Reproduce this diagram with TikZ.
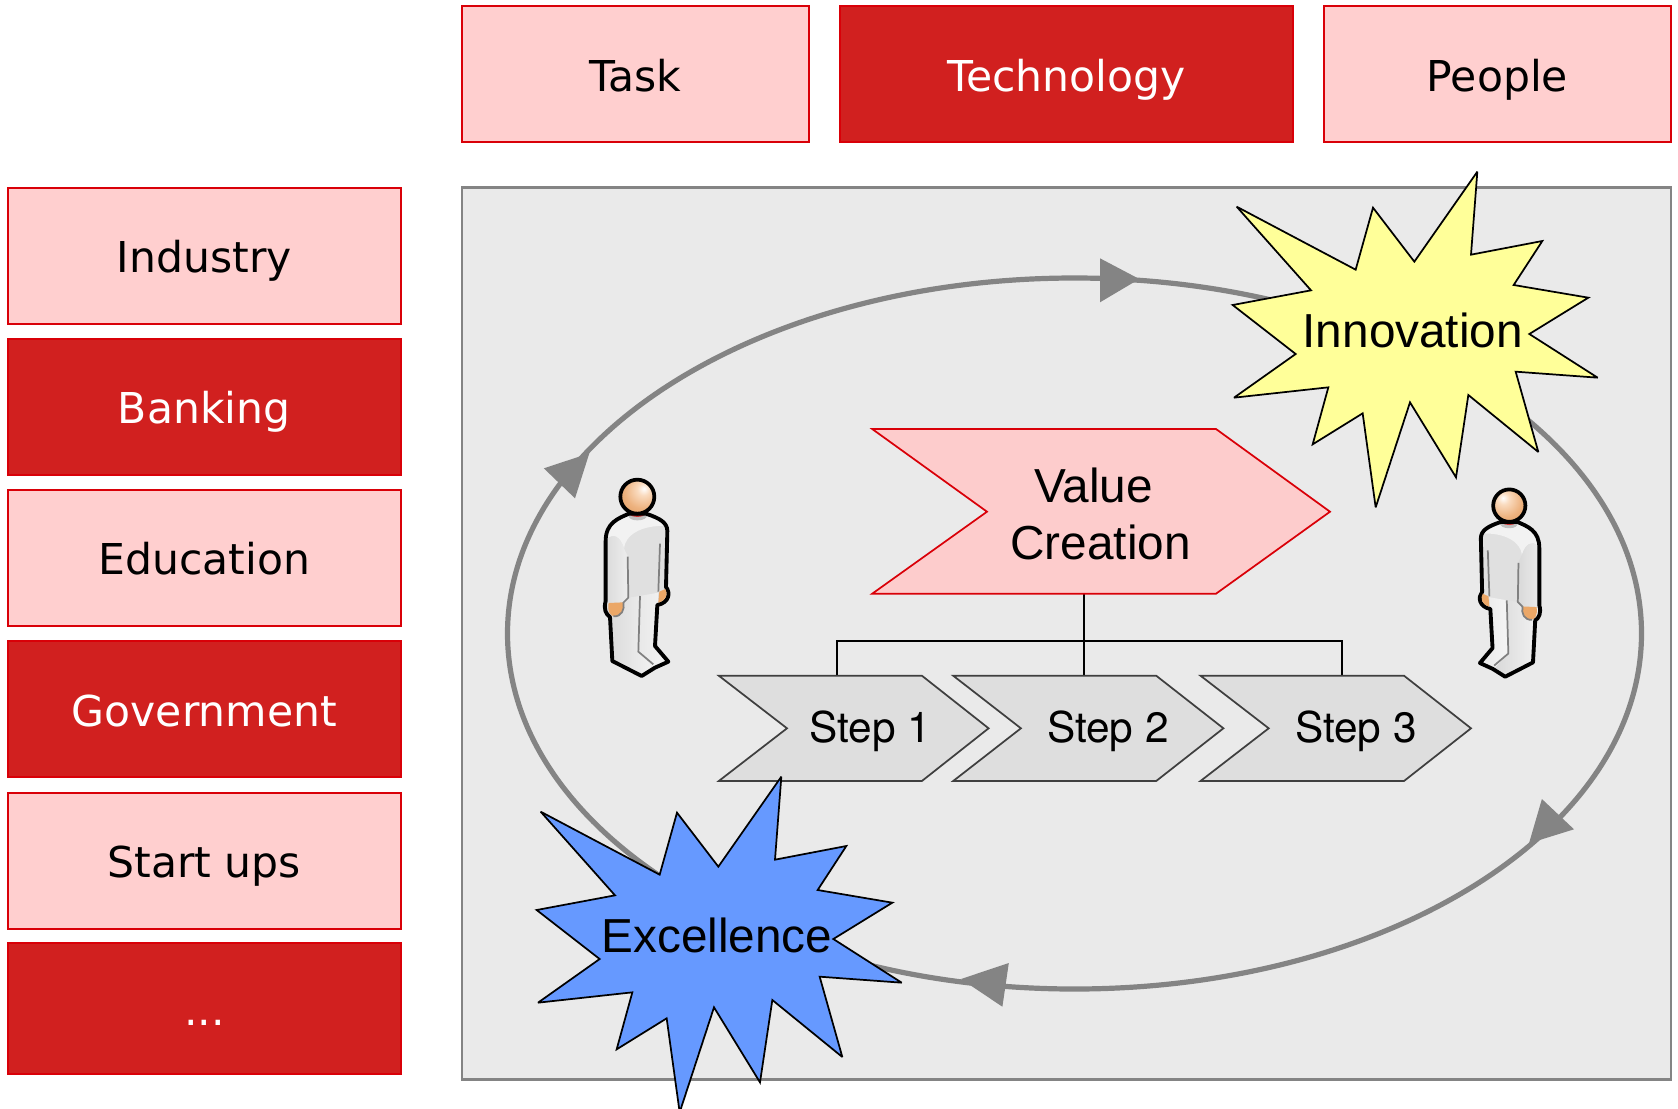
\documentclass[tikz,border=0pt]{standalone}
\usepackage{fontspec}
\setmainfont{DejaVu Sans}
\newfontfamily\arialf{Liberation Sans}
\newfontfamily\stepf{TeX Gyre Heros}
\definecolor{lightred}{HTML}{FFCFCF}
\definecolor{valuered}{HTML}{FDCCCC}
\definecolor{darkred}{HTML}{D1201F}
\definecolor{edgered}{HTML}{D90008}
\definecolor{panelfill}{HTML}{EAEAEA}
\definecolor{panelgray}{HTML}{848484}
\definecolor{stepfill}{HTML}{DEDEDE}
\definecolor{stepedge}{HTML}{3F3F3F}
\definecolor{burstyellow}{HTML}{FFFF99}
\definecolor{burstblue}{HTML}{6699FF}
\definecolor{handorange}{HTML}{EBA767}
\pgfdeclareradialshading{headL}{\pgfpoint{10bp}{12bp}}{rgb(0bp)=(1,1,1); rgb(9bp)=(.98,.86,.75); rgb(26bp)=(.93,.70,.50); rgb(46bp)=(.87,.59,.35); rgb(100bp)=(.87,.59,.35)}
\pgfdeclareradialshading{headR}{\pgfpoint{-10bp}{12bp}}{rgb(0bp)=(1,1,1); rgb(9bp)=(.98,.86,.75); rgb(26bp)=(.93,.70,.50); rgb(46bp)=(.87,.59,.35); rgb(100bp)=(.87,.59,.35)}
\tikzset{
  labelfont/.style={font=\fontsize{31.9}{38}\selectfont},
  boxbase/.style={draw=edgered,line width=1.5pt,inner sep=0pt,labelfont,text height=25.2pt,text depth=0pt},
  lightbox/.style={boxbase,fill=lightred,text=black},
  darkbox/.style={boxbase,fill=darkred,text=white},
  topbox/.style={minimum height=102pt,text height=26.3pt},
  sidebox/.style={minimum width=294.8pt,minimum height=102pt},
  panelbox/.style={draw=panelgray,fill=panelfill,line width=2.1pt},
  loopline/.style={draw=panelgray,line width=3.9pt},
  loophead/.style={fill=panelgray},
  valueshape/.style={draw=edgered,fill=valuered,line width=1.3pt,line join=miter},
  stepshape/.style={draw=stepedge,fill=stepfill,line width=1.3pt,line join=miter},
  burstshape/.style={draw=black,line width=1.3pt,line join=miter,miter limit=3},
  connector/.style={draw=black,line width=1.3pt},
  bigtext/.style={font=\arialf\fontsize{35.8}{42.45}\selectfont,inner sep=0pt,anchor=base},
  steptext/.style={font=\stepf\fontsize{31.8}{36}\selectfont,inner sep=0pt,anchor=base},
  seam/.style={draw=black!50,line width=1.3pt,line join=round},
}
\newcommand{\burstpath}{(832,65) -- (813,314) -- (1027,273) -- (941,405) -- (1165,443) -- (988,552) -- (1193,683) -- (947,665) -- (1015,906) -- (805,735) -- (768,982) -- (630,757) -- (527,1072) -- (488,790) -- (338,883) -- (385,712) -- (102,743) -- (287,612) -- (98,465) -- (333,421) -- (110,170) -- (467,359) -- (519,173) -- (643,335) -- cycle}
\newcommand{\bodypath}{(207,158) .. controls (175,172) and (137,185) .. (137,240) -- (137,420) .. controls (130,445) and (138,460) .. (150,468) -- (157,600) -- (245,645) -- (285,620) -- (325,602) -- (285,555) -- (292,432) .. controls (328,425) and (332,395) .. (318,378) -- (322,210) .. controls (322,185) and (300,172) .. (258,158) -- cycle}
\newcommand{\personfig}[1]{%
  \fill[fill=black!12] \bodypath;
  \begin{scope}
    \clip \bodypath;
    \fill[black!5] (140,235) .. controls (160,215) and (180,225) .. (192,262) .. controls (195,225) and (240,190) .. (325,195) -- (325,150) -- (130,150) -- cycle;
    \shade[left color=black!15,right color=black!7] (130,240) .. controls (160,215) and (180,225) .. (192,262) -- (205,290) -- (205,410) -- (190,425) -- (130,425) -- cycle;
    \shade[left color=black!15,right color=black!5] (140,430) -- (190,425) -- (205,410) -- (238,405) -- (235,572) -- (280,610) -- (245,650) -- (140,610) -- cycle;
    \shade[left color=black!9,right color=black!4] (238,405) -- (295,395) -- (285,555) -- (330,602) -- (285,625) -- (235,572) -- cycle;
    \fill[black!25] (205,160) -- (262,160) .. controls (262,172) and (250,178) .. (232,178) .. controls (215,178) and (205,172) .. (205,160) -- cycle;
  \end{scope}
  \draw[red!75!black!80!white,line width=1.2pt] (208,158) .. controls (220,168) and (245,168) .. (256,158);
  \draw[black,line width=2.9pt,line join=round] \bodypath;
  \fill[handorange] (146,426) -- (190,424) .. controls (195,445) and (185,468) .. (167,467) .. controls (150,466) and (141,450) .. (146,426) -- cycle;
  \fill[handorange] (298,392) -- (316,384) .. controls (324,398) and (320,418) .. (295,425) -- cycle;
  \draw[seam] (190,424) .. controls (195,445) and (185,468) .. (160,466);
  \draw[seam] (203,287) -- (205,410) -- (190,425);
  \draw[seam] (300,248) -- (295,392);
  \draw[seam] (240,405) -- (235,572) -- (280,610);
  \shade[shading=#1] (232,107) circle [radius=51];
  \draw[black,line width=2.8pt] (232,107) circle [radius=51];
}
\begin{document}
\begin{tikzpicture}[x=0.75pt,y=-0.75pt]
\useasboundingbox (0,0) rectangle (1678,1108);
% top row
\node[lightbox,topbox,minimum width=260.4pt] (task) at (635.4,74.2) {Task};
\node[darkbox,topbox,minimum width=340pt] (technology) at (1066.6,74.2) {Technology};
\node[lightbox,topbox,minimum width=260.8pt] (people) at (1497.4,74.2) {People};
% side column
\node[lightbox,sidebox] (industry) at (204.3,255.6) {Industry};
\node[darkbox,sidebox] (banking) at (204.3,406.7) {Banking};
\node[lightbox,sidebox] (education) at (204.3,558) {Education};
\node[darkbox,sidebox] (government) at (204.3,709.4) {Government};
\node[lightbox,sidebox] (startups) at (204.3,860.5) {Start ups};
\node[darkbox,sidebox,minimum height=98.2pt] (etc) at (204.3,1008.5) {...};
% panel
\draw[panelbox] (462,187.6) rectangle (1671,1079.3);
% loop
\draw[loopline] (1074.5,633.5) ellipse [x radius=567,y radius=355.5];
\fill[loophead] (1100,258.3) -- (1139.3,279) -- (1100,302.3) -- cycle;
\fill[loophead] (543.8,468.3) -- (589.3,453.3) -- (575,498.3) -- cycle;
\fill[loophead] (1541.9,799) -- (1574,829.3) -- (1529,843.3) -- cycle;
\fill[loophead] (1008.8,963) -- (961,979) -- (1002.4,1006.7) -- cycle;
% people
\begin{scope}[shift={(560,461)},scale=0.33333]
\personfig{headL}
\end{scope}
\begin{scope}[shift={(1582.6,471.6)},xscale=-0.316,yscale=0.318]
\personfig{headR}
\end{scope}
% value chain
\coordinate (vcb) at (1084,593.7);
\coordinate (s1t) at (837.3,675.7);
\coordinate (s2t) at (1084,675.7);
\coordinate (s3t) at (1342.3,675.7);
\coordinate (bus) at (1084,640.7);
\draw[connector] (vcb) -- (s2t);
\draw[connector] (s1t) -- (s1t |- bus) -- (s3t |- bus) -- (s3t);
\draw[valueshape] (872.2,429) -- (1216,429) -- (1330,511.7) -- (1216,593.7) -- (872.2,593.7) -- (987,511.7) -- cycle;
\node[bigtext] (value) at (1093.6,502.4) {Value};
\node[bigtext] (creation) at (1100.5,559) {Creation};
\draw[stepshape] (718.8,675.7) -- (921.9,675.7) -- (988.6,728.3) -- (921.9,781) -- (718.8,781) -- (787,728.3) -- cycle;
\draw[stepshape] (953.2,675.7) -- (1156.2,675.7) -- (1223.4,728.3) -- (1156.2,781) -- (953.2,781) -- (1020.9,728.3) -- cycle;
\draw[stepshape] (1200.5,675.7) -- (1404,675.7) -- (1471,728.3) -- (1404,781) -- (1200.5,781) -- (1268.7,728.3) -- cycle;
\node[steptext] (step1) at (870.5,742.5) {Step 1};
\node[steptext] (step2) at (1108,742.5) {Step 2};
\node[steptext] (step3) at (1356,742.5) {Step 3};
% bursts
\begin{scope}[shift={(1200,150)},scale=0.33333]
\draw[burstshape,fill=burstyellow] \burstpath;
\end{scope}
\node[bigtext] (innovation) at (1412.8,347.2) {Innovation};
\begin{scope}[shift={(504,755)},scale=0.33333]
\draw[burstshape,fill=burstblue] \burstpath;
\end{scope}
\node[bigtext] (excellence) at (717,952.2) {Excellence};
\end{tikzpicture}
\end{document}
